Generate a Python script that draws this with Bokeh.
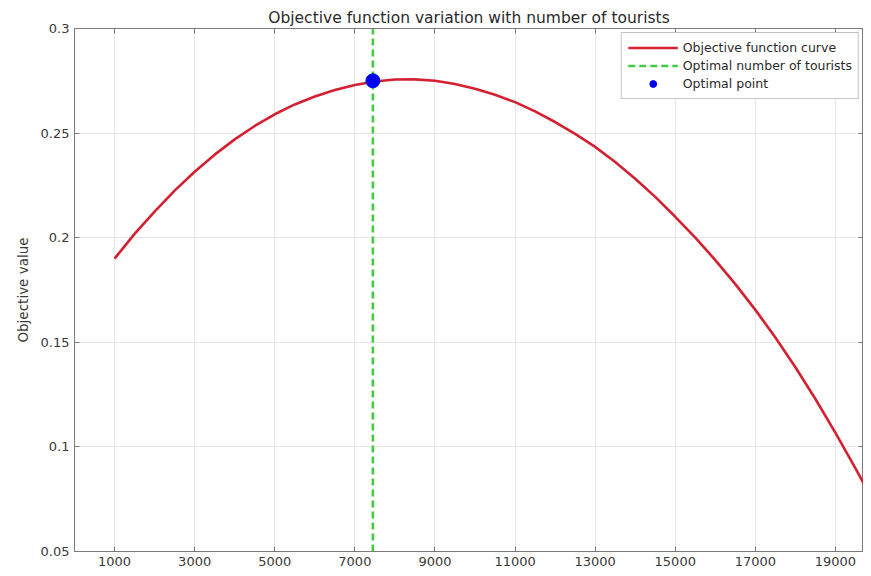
from bokeh.plotting import figure
from bokeh.models import LinearAxis, FixedTicker, Range1d, Legend, LegendItem, ColumnDataSource
from bokeh.embed import file_html
from bokeh.resources import INLINE

# ---- data ----
tourists = [1000, 1500, 2000, 2500, 3000, 3500, 4000, 4500, 5000, 5500,
            6000, 6500, 7000, 7500, 8000, 8500, 9000, 9500, 10000, 10500,
            11000, 11500, 12000, 12500, 13000, 13500, 14000, 14500, 15000, 15500,
            16000, 16500, 17000, 17500, 18000, 18500, 19000, 19500, 20000]
objective = [0.1900, 0.2018, 0.2125, 0.2225, 0.2315, 0.2397, 0.2470, 0.2534, 0.2590, 0.2637,
             0.2675, 0.2706, 0.2730, 0.2747, 0.2756, 0.2757, 0.2750, 0.2735, 0.2712, 0.2683,
             0.2648, 0.2604, 0.2553, 0.2496, 0.2434, 0.2362, 0.2282, 0.2195, 0.2100, 0.2000,
             0.1893, 0.1778, 0.1655, 0.1523, 0.1381, 0.1229, 0.1067, 0.0897, 0.0722]
opt_x = [7450]
opt_y = [0.2750]
y_limits = [0.05, 0.30]
x_limits = [0, 19700]
x_ticks = [1000, 3000, 5000, 7000, 9000, 11000, 13000, 15000, 17000, 19000]
y_ticks = [0.05, 0.1, 0.15, 0.2, 0.25, 0.3]
y_tick_labels = {0.05: "0.05", 0.1: "0.1", 0.15: "0.15", 0.2: "0.2", 0.25: "0.25", 0.3: "0.3"}

FONT = "DejaVu Sans"
AX = "#7a7a7a"
TXT = "#3a3a3a"

p = figure(width=863, height=568, output_backend="svg", toolbar_location=None,
           x_range=Range1d(*x_limits), y_range=Range1d(*y_limits),
           min_border_left=74, min_border_right=0, min_border_top=28, min_border_bottom=16,
           title="Objective function variation with number of tourists")
p.background_fill_color = "white"
p.border_fill_color = "white"
p.outline_line_color = AX
p.outline_line_width = 1

p.title.text_font = FONT
p.title.text_font_size = "15.5px"
p.title.text_font_style = "normal"
p.title.text_color = "#2a2a2a"
p.title.align = "center"
p.title.offset = 0
p.title.standoff = 4

for ax in (p.xaxis[0], p.yaxis[0]):
    ax.axis_line_color = AX
    ax.major_tick_line_color = AX
    ax.major_tick_in = 5
    ax.major_tick_out = 0
    ax.minor_tick_line_color = None
    ax.major_label_text_font = FONT
    ax.major_label_text_font_size = "13px"
    ax.major_label_text_color = TXT
    ax.major_label_standoff = 5

p.xaxis.ticker = FixedTicker(ticks=x_ticks)
p.yaxis.ticker = FixedTicker(ticks=y_ticks)
p.yaxis.major_label_overrides = y_tick_labels
p.yaxis.axis_label = "Objective value"
p.yaxis.axis_label_text_font = FONT
p.yaxis.axis_label_text_font_size = "13.5px"
p.yaxis.axis_label_text_font_style = "normal"
p.yaxis.axis_label_text_color = TXT
p.yaxis.axis_label_standoff = 7

# box ticks on top/right (tick marks only, no labels drawn)
top_ax = LinearAxis(ticker=FixedTicker(ticks=x_ticks), major_label_text_font_size="1px",
                    major_label_text_color=None, major_label_standoff=0,
                    major_tick_in=5, major_tick_out=0,
                    minor_tick_line_color=None, axis_line_color=AX, major_tick_line_color=AX)
right_ax = LinearAxis(ticker=FixedTicker(ticks=y_ticks), major_label_text_font_size="1px",
                      major_label_text_color=None, major_label_standoff=0,
                      major_tick_in=5, major_tick_out=0,
                      minor_tick_line_color=None, axis_line_color=AX, major_tick_line_color=AX)
p.add_layout(top_ax, "above")
p.add_layout(right_ax, "right")

p.xgrid.ticker = FixedTicker(ticks=x_ticks)
p.ygrid.ticker = FixedTicker(ticks=y_ticks)
p.grid.grid_line_color = "#e6e6e6"
p.grid.grid_line_width = 1

curve_src = ColumnDataSource(dict(x=tourists, y=objective))
r_curve = p.line("x", "y", source=curve_src, line_color="#d42030", line_width=2.6,
                 line_join="round")
r_vline = p.line(x=[opt_x[0], opt_x[0]], y=y_limits, line_color="#40cc40", line_width=2.6,
                 line_dash="7 4")
r_pt = p.scatter(x=opt_x, y=opt_y, size=14, fill_color="#0000ee", line_color="#0000ee")

legend = Legend(items=[
    LegendItem(label="Objective function curve", renderers=[r_curve]),
    LegendItem(label="Optimal number of tourists", renderers=[r_vline]),
    LegendItem(label="Optimal point", renderers=[r_pt]),
], location="top_right")
legend.label_text_font = FONT
legend.label_text_font_size = "12.5px"
legend.label_text_color = "#2a2a2a"
legend.glyph_width = 50
legend.glyph_height = 17
legend.label_height = 17
legend.spacing = 1
legend.padding = 6
legend.margin = 4
legend.label_standoff = 5
legend.border_line_color = "#8a8a8a"
legend.border_line_width = 1
legend.background_fill_alpha = 1.0
p.add_layout(legend, "center")

open("out.html", "w").write(file_html(p, INLINE))
